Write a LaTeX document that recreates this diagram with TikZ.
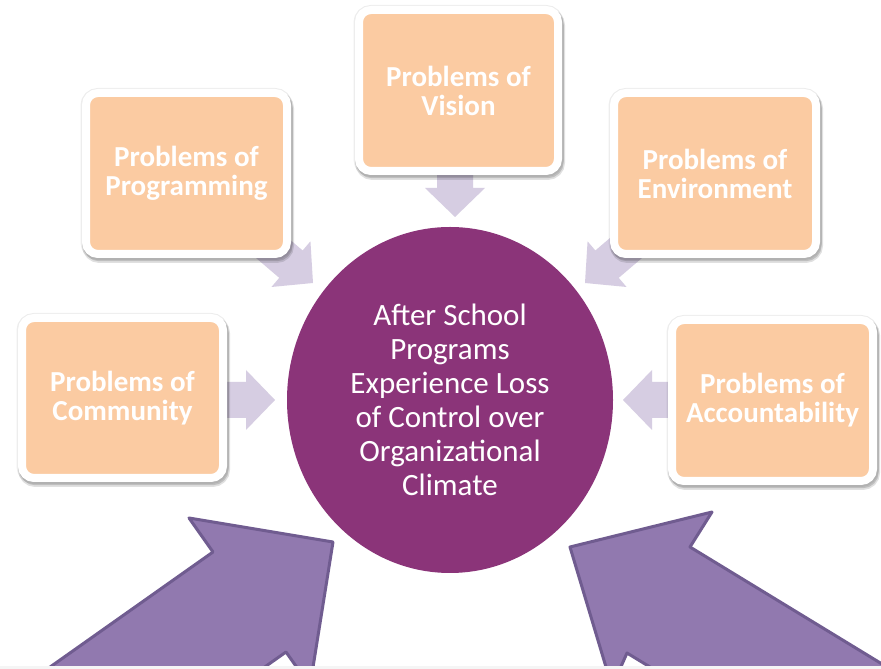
\documentclass[tikz,border=0pt]{standalone}
\usepackage{fontspec}
\setmainfont{Carlito}
\usetikzlibrary{shadows,shapes.geometric,calc}
\definecolor{circ}{HTML}{8B3479}
\definecolor{peach}{HTML}{FBCBA2}
\definecolor{smallarr}{HTML}{D6CDE2}
\definecolor{bigfill}{HTML}{9179AF}
\definecolor{bigline}{HTML}{705C90}
\tikzset{
  probbox/.style={draw=white, line width=8pt, fill=peach, rounded corners=12pt,
    text=white, align=center, inner sep=0pt,
    font=\fontsize{29}{29}\selectfont\bfseries,
    general shadow={shadow xshift=0pt, shadow yshift=-0.5pt, opacity=.07,
      fill=black, draw=black, line width=11pt},
    drop shadow={shadow xshift=1.5pt, shadow yshift=-3.5pt, opacity=.12,
      fill=black, draw=black, line width=11pt},
    drop shadow={shadow xshift=1.5pt, shadow yshift=-3pt, opacity=.15,
      fill=black, draw=black, line width=8.5pt}},
  bigarrow/.style={fill=bigfill, draw=bigline, line width=3pt, line join=round},
  pics/blockarr/.style={code={
    \fill[smallarr] (0,0) -- (-29,30) -- (-29,18) -- (-75,18) -- (-75,-18)
      -- (-29,-18) -- (-29,-30) -- cycle;}}
}
\begin{document}
\begin{tikzpicture}[x=1pt,y=1pt]
\useasboundingbox (0,0) rectangle (881,669);
\fill[white] (0,0) rectangle (881,669);

% central ellipse
\node[ellipse, fill=circ, minimum width=326pt, minimum height=346pt, inner sep=0pt] (c) at (450,269) {};
\node[text=white, align=center, font=\fontsize{31}{34}\selectfont] (ctext) at (450,269)
  {After School\\Programs\\Experience Loss\\of Control over\\Organizational\\Climate};

% small arrow tips
\coordinate (tv) at (455,452);
\coordinate (tp) at (313,386);
\coordinate (te) at (585,386);
\coordinate (tc) at (275,269);
\coordinate (ta) at (623,269);
\pic[rotate=-90] at (tv) {blockarr};
\pic[rotate=-40.5] at (tp) {blockarr};
\pic[rotate=220.5] at (te) {blockarr};
\pic at (tc) {blockarr};
\pic[rotate=180] at (ta) {blockarr};

% boxes
\node[probbox, minimum width=199pt, minimum height=161pt] (vis) at (458.5,578.5) {Problems of\\Vision};
\node[probbox, minimum width=201pt, minimum height=161pt] (prog) at (186.5,495.5) {Problems of\\Programming};
\node[probbox, minimum width=202pt, minimum height=161pt] (env) at (715,495.5) {Problems of\\Environment};
\node[probbox, minimum width=201pt, minimum height=160pt] (comm) at (122.5,271) {Problems of\\Community};
\node[probbox, minimum width=201pt, minimum height=161pt] (acc) at (772.5,268.5) {Problems of\\Accountability};

% big arrows
\begin{scope}
\clip (0,0) rectangle (881,669);
\draw[bigarrow] (189,151) -- (333,127) -- (310,-17) -- (286,17) -- (41,-156) -- (-32,-56) -- (213,117) -- cycle;
\draw[bigarrow] (712,157) -- (570,122) -- (612,-18) -- (627,16) -- (883,-140) -- (946,-34) -- (690,122) -- cycle;
\end{scope}
\fill[black!4] (0,0) rectangle (881,3);
\end{tikzpicture}
\end{document}
